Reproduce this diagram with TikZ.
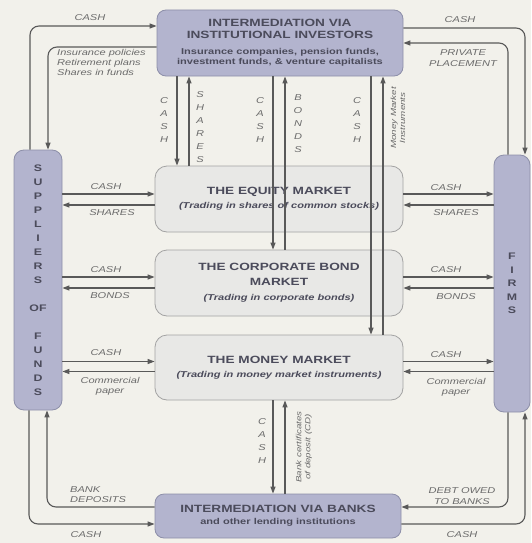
\documentclass[tikz,border=0pt]{standalone}
\usepackage{fontspec}
\usetikzlibrary{arrows.meta}
\newfontfamily\wide[FakeStretch=1.3]{Liberation Sans}
\newcommand\hdrfont{\wide\bfseries\fontsize{10.5}{12}\selectfont}
\newcommand\subfont{\wide\bfseries\fontsize{8.5}{10}\selectfont}
\newcommand\subitfont{\wide\bfseries\itshape\fontsize{8.5}{10}\selectfont}
\newcommand\lblfont{\wide\itshape\fontsize{8.5}{10}\selectfont}
\newcommand\stkfont{\wide\itshape\fontsize{8.5}{13}\selectfont}
\newcommand\smallitfont{\wide\itshape\fontsize{7.5}{9}\selectfont}
\newcommand\sidefont{\wide\bfseries\fontsize{9.5}{14}\selectfont}
\newcommand\firmfont{\wide\bfseries\fontsize{9.5}{13.5}\selectfont}
\definecolor{bgc}{HTML}{F2F1EB}
\definecolor{lavfill}{HTML}{B3B4CE}
\definecolor{lavedge}{HTML}{8D8FA9}
\definecolor{mktfill}{HTML}{E8E8E6}
\definecolor{mktedge}{HTML}{A3A3A3}
\definecolor{linec}{HTML}{595959}
\definecolor{hdrtext}{HTML}{4B4B5B}
\definecolor{lblc}{HTML}{6B6B6B}
\begin{document}
\begin{tikzpicture}[x=1pt,y=-1pt,
  lav/.style={draw=lavedge, fill=lavfill, rounded corners=9pt, line width=0.8pt,
    inner sep=0pt, align=center, text=hdrtext},
  mkt/.style={draw=mktedge, fill=mktfill, rounded corners=12pt, line width=0.8pt,
    inner sep=0pt, align=center, text=hdrtext},
  flow/.style={draw=linec, line width=1.1pt, rounded corners=9pt,
    -{Triangle[length=7pt,width=5pt]}},
  lbl/.style={font=\lblfont, text=lblc, inner sep=0pt, align=center},
  stk/.style={font=\stkfont, text=lblc, inner sep=0pt, align=center}]

% page background
\fill[bgc] (0,0) rectangle (531,543);
\useasboundingbox (0,0) rectangle (531,543);

% boxes
\node[lav, minimum width=246pt, minimum height=66pt, font=\hdrfont] (inst) at (280,43)
  {INTERMEDIATION VIA\\\hdrfont INSTITUTIONAL INVESTORS\\[4pt]\subfont Insurance companies, pension funds,\\[-2pt]\subfont investment funds, \& venture capitalists};
\node[mkt, minimum width=248pt, minimum height=66pt, font=\hdrfont] (eq) at (279,199)
  {THE EQUITY MARKET\\[2pt]\subitfont (Trading in shares of common stocks)};
\node[mkt, minimum width=248pt, minimum height=66pt, font=\hdrfont] (bond) at (279,283)
  {THE CORPORATE BOND\\[3pt]\hdrfont MARKET\\[3pt]\subitfont (Trading in corporate bonds)};
\node[mkt, minimum width=248pt, minimum height=65pt, font=\hdrfont] (money) at (279,367.5)
  {THE MONEY MARKET\\[2pt]\subitfont (Trading in money market instruments)};
\node[lav, minimum width=246pt, minimum height=44pt, font=\hdrfont] (banks) at (278,516)
  {INTERMEDIATION VIA BANKS\\[0pt]\subfont and other lending institutions};
\node[lav, minimum width=48pt, minimum height=260pt, rounded corners=10pt, font=\sidefont] (sup) at (38,280)
  {S\\U\\P\\P\\L\\I\\E\\R\\S\\[14pt]OF\\[14pt]F\\U\\N\\D\\S};
\node[lav, minimum width=36pt, minimum height=257pt, rounded corners=10pt, font=\firmfont] (firms) at (512,283.5)
  {F\\I\\R\\M\\S};

% columns of the vertical flows
\coordinate (c1) at (177,0);
\coordinate (c2) at (189,0);
\coordinate (c3) at (273,0);
\coordinate (c4) at (285,0);
\coordinate (c5) at (371,0);
\coordinate (c6) at (383,0);

% institutional investors <-> markets
\draw[flow] (c1 |- inst.south) -- (c1 |- eq.north);
\draw[flow] (c2 |- eq.north) -- (c2 |- inst.south);
\draw[flow] (c3 |- inst.south) -- (c3 |- bond.north);
\draw[flow] (c4 |- bond.north) -- (c4 |- inst.south);
\draw[flow] (c5 |- inst.south) -- (c5 |- money.north);
\draw[flow] (c6 |- money.north) -- (c6 |- inst.south);

% money market <-> banks
\draw[flow] (c3 |- money.south) -- (c3 |- banks.north);
\draw[flow] (c4 |- banks.north) -- (c4 |- money.south);

% horizontal flow levels
\coordinate (eqA) at ([yshift=5pt]eq.west);
\coordinate (eqB) at ([yshift=-6pt]eq.west);
\coordinate (bdA) at ([yshift=6pt]bond.west);
\coordinate (bdB) at ([yshift=-5pt]bond.west);
\coordinate (mmA) at ([yshift=6pt]money.west);
\coordinate (mmB) at ([yshift=-4pt]money.west);

% suppliers <-> markets
\draw[flow] (eqA -| sup.east) -- (eqA -| eq.west);
\draw[flow] (eqB -| eq.west) -- (eqB -| sup.east);
\draw[flow] (bdA -| sup.east) -- (bdA -| bond.west);
\draw[flow] (bdB -| bond.west) -- (bdB -| sup.east);
\draw[flow] (mmA -| sup.east) -- (mmA -| money.west);
\draw[flow] (mmB -| money.west) -- (mmB -| sup.east);

% markets <-> firms
\draw[flow] (eqA -| eq.east) -- (eqA -| firms.west);
\draw[flow] (eqB -| firms.west) -- (eqB -| eq.east);
\draw[flow] (bdA -| bond.east) -- (bdA -| firms.west);
\draw[flow] (bdB -| firms.west) -- (bdB -| bond.east);
\draw[flow] (mmA -| money.east) -- (mmA -| firms.west);
\draw[flow] (mmB -| firms.west) -- (mmB -| money.east);

% loops to the institutional investors
\draw[flow] ([xshift=-8pt]sup.north) |- ([yshift=17pt]inst.west);
\draw[flow] ([yshift=-4pt]inst.west) -| ([xshift=10pt]sup.north);
\draw[flow] ([yshift=15pt]inst.east) -| ([xshift=13pt]firms.north);
\draw[flow] ([xshift=-4pt]firms.north) |- (inst.east);

% loops to the banks
\draw[flow] ([yshift=9pt]banks.west) -| ([xshift=9pt]sup.south);
\draw[flow] ([xshift=-9pt]sup.south) |- ([yshift=-8pt]banks.west);
\draw[flow] ([xshift=-4pt]firms.south) |- ([yshift=9pt]banks.east);
\draw[flow] ([yshift=-8pt]banks.east) -| ([xshift=13pt]firms.south);

% vertical labels
\node[stk] (k1) at (164,120) {C\\A\\S\\H};
\node[stk] (k2) at (200,127) {S\\H\\A\\R\\E\\S};
\node[stk] (k3) at (260,120) {C\\A\\S\\H};
\node[stk] (k4) at (298,124) {B\\O\\N\\D\\S};
\node[stk] (k5) at (357,120) {C\\A\\S\\H};
\node[lbl, font=\smallitfont, rotate=90] (k6) at (398,118) {Money Market\\\smallitfont Instruments};
\node[stk] (k7) at (262,441) {C\\A\\S\\H};
\node[lbl, font=\smallitfont, rotate=90] (k8) at (304,447) {Bank certificates\\\smallitfont of deposit (CD)};

% labels, left side
\node[lbl] (l1) at (106,187) {CASH};
\node[lbl] (l2) at (112,213) {SHARES};
\node[lbl] (l3) at (106,270) {CASH};
\node[lbl] (l4) at (110,296) {BONDS};
\node[lbl] (l5) at (106,353) {CASH};
\node[lbl] (l6) at (110,386) {Commercial\\\lblfont paper};

% labels, right side
\node[lbl] (r1) at (446,188) {CASH};
\node[lbl] (r2) at (456,213) {SHARES};
\node[lbl] (r3) at (446,270) {CASH};
\node[lbl] (r4) at (456,297) {BONDS};
\node[lbl] (r5) at (446,355) {CASH};
\node[lbl] (r6) at (456,387) {Commercial\\\lblfont paper};

% labels, top
\node[lbl] (t1) at (90,18) {CASH};
\node[lbl, anchor=west, align=left] (t2) at (57,62) {Insurance policies\\\lblfont Retirement plans\\\lblfont Shares in funds};
\node[lbl] (t3) at (460,20) {CASH};
\node[lbl] (t4) at (463,58) {PRIVATE\\[1pt]\lblfont PLACEMENT};

% labels, bottom
\node[lbl, anchor=west, align=left] (b1) at (70,495) {BANK\\\lblfont DEPOSITS};
\node[lbl] (b2) at (86,535) {CASH};
\node[lbl] (b3) at (462,496) {DEBT OWED\\[1pt]\lblfont TO BANKS};
\node[lbl] (b4) at (462,535) {CASH};
\end{tikzpicture}
\end{document}
